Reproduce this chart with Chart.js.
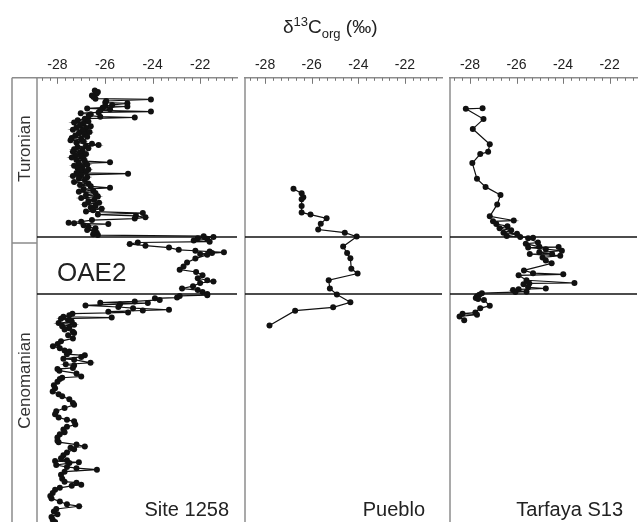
<!DOCTYPE html>
<html>
<head>
<meta charset="utf-8">
<script src="https://cdn.jsdelivr.net/npm/chart.js@4.4.1/dist/chart.umd.min.js"></script>
<style>
  html, body { margin: 0; padding: 0; background: #fff; }
  #wrap { position: relative; width: 641px; height: 526px; overflow: hidden; font-family: "Liberation Sans", Arial, sans-serif; }
  canvas { position: absolute; top: 0; }
  #title { position: absolute; left: 283px; top: 17px; font-size: 19px; line-height: 19px; color: #222; white-space: nowrap; z-index: 2; }
  #title .sup { font-size: 13px; position: relative; top: -7px; }
  #title .sub { font-size: 13px; position: relative; top: 5px; }
</style>
</head>
<body>
<div id="wrap">
  <canvas id="c1" width="241" height="526" style="left:0"></canvas>
  <canvas id="c2" width="205" height="526" style="left:241px"></canvas>
  <canvas id="c3" width="195" height="526" style="left:446px"></canvas>
  <div id="title">δ<span class="sup">13</span>C<span class="sub">org</span> (‰)</div>
</div>
<script>
// Data points: [relative depth (0 = top of section), d13C org in permil]
const site1258 = [
  [3.2,-26.43],[3.6,-26.30],[4.0,-26.35],[4.5,-26.55],[4.9,-26.48],[5.3,-26.40],[5.5,-24.07],[5.9,-25.95],
  [6.3,-25.99],[6.5,-25.06],[6.9,-25.70],[7.2,-25.99],[7.3,-25.06],[7.6,-26.10],[7.8,-26.75],[8.0,-25.79],
  [8.3,-26.20],[8.6,-24.07],[8.8,-26.27],[9.0,-27.02],[9.3,-26.60],[9.6,-26.68],[9.9,-26.20],[10.1,-24.75],
  [10.4,-26.85],[10.8,-27.15],[11.1,-26.70],[11.4,-27.30],[11.7,-26.90],[12.0,-27.05],[12.3,-26.60],[12.6,-27.20],
  [12.9,-26.80],[13.2,-27.35],[13.5,-26.95],[13.8,-26.65],[14.1,-27.10],[14.4,-26.85],[14.7,-27.25],[15.0,-26.75],
  [15.3,-27.40],[15.6,-27.00],[15.9,-27.45],[16.2,-26.90],[16.5,-27.20],[16.8,-26.55],[17.1,-26.27],[17.3,-26.80],
  [17.6,-27.15],[17.9,-26.70],[18.2,-27.30],[18.5,-26.95],[18.8,-27.35],[19.1,-27.05],[19.4,-26.80],[19.7,-27.25],
  [20.0,-27.00],[20.3,-27.40],[20.6,-26.90],[20.9,-27.20],[21.2,-26.85],[21.5,-25.79],[21.8,-27.10],[22.1,-26.75],
  [22.4,-27.30],[22.7,-26.95],[23.0,-27.15],[23.3,-26.70],[23.6,-27.05],[23.9,-26.80],[24.2,-27.20],[24.4,-25.03],
  [24.7,-27.00],[25.0,-27.35],[25.3,-26.75],[25.6,-27.10],[26.0,-26.85],[26.5,-27.30],[26.9,-26.70],[27.3,-27.05],
  [27.6,-26.60],[28.0,-25.79],[28.3,-26.90],[28.7,-26.50],[29.0,-27.10],[29.4,-26.40],[29.8,-26.80],[30.2,-26.30],
  [30.6,-27.00],[31.0,-26.45],[31.4,-26.70],[31.8,-26.25],[32.2,-26.85],[32.6,-26.40],[33.0,-26.60],[33.3,-26.14],
  [33.7,-26.50],[34.0,-26.80],[34.4,-24.41],[34.8,-26.30],[35.1,-24.70],[35.5,-24.30],[35.8,-24.75],[36.2,-26.55],
  [36.6,-27.00],[36.9,-27.53],[37.0,-27.30],[37.2,-25.86],[37.5,-26.90],[37.9,-26.70],[38.3,-26.40],[38.7,-26.75],
  [39.0,-26.45],[39.4,-26.35],[39.8,-26.50],[40.0,-26.30],
  [40.3,-21.85],[40.5,-21.44],[40.8,-22.10],[41.1,-21.70],[41.4,-22.27],[41.7,-21.60],[41.9,-24.62],[42.3,-24.96],
  [42.7,-24.30],[43.2,-23.31],[43.75,-22.90],[44.0,-22.20],[44.2,-21.60],[44.4,-21.00],[44.6,-21.50],[44.8,-22.00],
  [45.0,-21.70],[46.0,-22.20],[47.0,-22.55],[48.0,-22.70],[48.8,-22.86],[49.4,-22.17],[50.2,-21.90],[51.0,-22.10],
  [51.5,-21.70],[51.8,-21.44],[52.2,-22.00],[53.0,-22.30],[53.6,-22.76],[54.0,-22.10],[54.5,-21.90],[55.0,-21.70],
  [55.3,-21.70],[55.5,-22.86],[55.9,-22.97],[56.1,-23.90],[56.5,-23.70],[56.9,-24.75],[57.2,-26.20],[57.3,-24.20],
  [57.6,-25.37],[57.9,-26.82],[58.3,-25.44],[58.6,-24.82],[59.0,-23.31],[59.2,-24.41],[59.5,-25.86],[59.7,-25.03],
  [60.0,-27.37],[60.4,-27.50],[60.8,-27.75],[61.0,-25.72],[61.3,-27.85],[61.7,-27.55],[62.0,-27.40],[62.4,-27.95],
  [62.8,-27.30],[63.2,-27.80],[63.6,-27.50],[64.0,-27.70],[64.6,-27.35],[64.9,-27.30],[65.5,-27.55],[66.3,-27.35],
  [67.0,-27.85],[67.7,-27.99],[68.3,-28.19],[68.8,-27.90],[69.4,-27.70],[69.6,-27.50],[70.3,-27.60],[70.6,-26.85],
  [71.0,-27.00],[71.5,-27.75],[71.7,-27.30],[72.5,-26.61],[72.9,-27.65],[73.2,-27.30],[73.8,-27.35],[74.1,-28.00],
  [74.5,-27.92],[75.2,-27.20],[76.0,-27.00],[76.3,-27.80],[76.6,-27.90],[77.3,-28.00],[78.2,-28.15],[79.0,-28.10],
  [79.8,-28.20],[80.5,-27.95],[81.0,-27.80],[81.8,-27.50],[82.7,-27.35],[83.2,-27.30],[84.0,-27.70],[84.8,-28.05],
  [85.6,-28.10],[86.4,-27.95],[87.0,-27.60],[87.4,-27.30],[88.2,-27.25],[88.8,-27.60],[89.5,-27.75],[90.2,-27.70],
  [90.7,-27.90],[91.5,-28.00],[92.3,-28.00],[92.7,-27.95],[93.3,-27.20],[93.8,-26.85],[94.1,-27.45],[94.5,-27.30],
  [95.3,-27.60],[96.0,-27.75],[96.8,-27.85],[97.3,-27.60],[97.5,-28.10],[97.8,-27.10],[98.0,-27.50],[98.5,-28.05],
  [99.0,-27.60],[99.3,-27.20],[99.7,-26.34],[100.2,-27.70],[101.0,-27.85],[102.0,-27.80],[102.75,-27.70],[103.0,-27.20],
  [103.5,-27.00],[103.8,-27.40],[104.3,-27.90],[104.8,-28.10],[105.6,-28.20],[106.4,-28.30],[107.0,-28.25],[107.8,-27.90],
  [108.5,-27.60],[109.0,-27.09],[109.7,-28.05],[110.3,-28.15],[111.0,-28.00],[111.7,-28.25],[112.4,-28.20],[113.0,-28.10]
];

const pueblo = [
  [28.2,-26.78],[29.4,-26.43],[30.4,-26.36],[30.9,-26.43],[32.6,-26.43],[34.25,-26.43],[34.8,-26.05],[35.75,-25.36],
  [37.1,-25.61],[38.6,-25.72],[39.4,-24.58],[40.4,-24.07],[42.9,-24.65],[44.6,-24.48],[45.9,-24.34],[48.6,-24.30],
  [49.8,-24.03],[51.5,-25.27],[53.6,-25.22],[55.1,-24.92],[57.1,-24.34],[58.4,-25.08],[59.25,-26.71],[63.0,-27.81]
];

const tarfaya = [
  [7.75,-27.46],[7.9,-28.18],[10.5,-27.42],[13.0,-27.88],[16.9,-27.15],[18.8,-27.22],[19.4,-27.56],[21.7,-27.90],
  [25.7,-27.70],[27.75,-27.33],[29.8,-26.69],[32.2,-26.83],[35.25,-27.15],[36.3,-26.12],[36.5,-27.01],[37.2,-26.87],
  [37.75,-26.39],[38.3,-26.73],[38.8,-26.23],[39.4,-26.56],[39.7,-25.98],[40.25,-26.42],[40.5,-25.84],[40.7,-25.29],
  [40.8,-25.50],[41.9,-25.08],[42.2,-25.60],[43.0,-25.02],[43.05,-24.19],[43.2,-25.50],[43.6,-24.74],[44.0,-24.05],
  [44.4,-25.02],[44.8,-24.47],[44.85,-25.43],[45.25,-24.12],[45.7,-24.88],[46.5,-24.74],[47.2,-24.49],[49.0,-25.68],
  [49.7,-25.29],[50.0,-23.99],[50.25,-25.91],[51.5,-25.57],[52.2,-23.51],[52.3,-25.45],[52.5,-25.70],[53.3,-25.50],
  [53.6,-24.74],[53.8,-25.91],[54.0,-26.15],[54.4,-25.57],[54.5,-26.05],[54.8,-27.49],[55.2,-27.60],[55.6,-27.70],
  [56.0,-27.75],[56.3,-27.65],[56.5,-27.40],[58.0,-27.15],[58.6,-27.56],[59.7,-27.77],[60.0,-28.32],[60.25,-27.70],
  [60.7,-28.45],[61.7,-28.25]
];

const xTicks = [-28, -26, -24, -22];
const xMin = -28.86;
const panelMax = [-20.45, -20.41, -20.82];
const panelNames = ['Site 1258', 'Pueblo', 'Tarfaya S13'];
const depthMin = 0;
const depthMax = 113;
const oaeTop = 40.5;
const oaeBase = 55;
const stageBoundary = 42;
const stageNames = ['Turonian', 'Cenomanian'];
const stageLabelDepth = [18, 77];

const FONT = '"Liberation Sans", Arial, sans-serif';

// Panel frame, inward ticks, OAE2 lines and labels
const panelDecor = {
  id: 'panelDecor',
  beforeDatasetsDraw(chart, args, opts) {
    const ctx = chart.ctx;
    const area = chart.chartArea;
    const x = chart.scales.x;
    const y = chart.scales.y;
    ctx.save();

    // panel left border
    ctx.strokeStyle = '#8c8c8c';
    ctx.lineWidth = 1.5;
    ctx.beginPath();
    ctx.moveTo(area.left, area.top);
    ctx.lineTo(area.left, area.bottom);
    ctx.stroke();

    // minor ticks every 1/3 permil, major at labelled values
    ctx.lineWidth = 1;
    ctx.strokeStyle = '#777';
    for (let k = -2; ; k++) {
      const v = -28 + k / 3;
      if (v > x.max) break;
      const px = Math.round(x.getPixelForValue(v)) + 0.5;
      const len = k % 6 === 0 ? 6 : 3;
      ctx.beginPath();
      ctx.moveTo(px, area.top);
      ctx.lineTo(px, area.top + len);
      ctx.stroke();
    }

    // OAE2 interval
    ctx.strokeStyle = '#111';
    ctx.lineWidth = 1.3;
    [oaeTop, oaeBase].forEach(d => {
      const py = y.getPixelForValue(d);
      ctx.beginPath();
      ctx.moveTo(area.left, py);
      ctx.lineTo(area.right, py);
      ctx.stroke();
    });

    // stage column (first panel only)
    if (opts.stageColumn) {
      const colLeft = area.left - 25;
      ctx.strokeStyle = '#8c8c8c';
      ctx.lineWidth = 1.5;
      ctx.beginPath();
      ctx.moveTo(colLeft, area.top);
      ctx.lineTo(area.left, area.top);
      ctx.moveTo(colLeft, area.top);
      ctx.lineTo(colLeft, area.bottom);
      const by = y.getPixelForValue(stageBoundary);
      ctx.moveTo(colLeft, by);
      ctx.lineTo(area.left, by);
      ctx.stroke();

      ctx.fillStyle = '#333';
      ctx.font = '17px ' + FONT;
      ctx.textAlign = 'center';
      ctx.textBaseline = 'middle';
      stageNames.forEach((name, i) => {
        ctx.save();
        ctx.translate(colLeft + 13, y.getPixelForValue(stageLabelDepth[i]));
        ctx.rotate(-Math.PI / 2);
        ctx.fillText(name, 0, 0);
        ctx.restore();
      });

      ctx.font = '26px ' + FONT;
      ctx.fillStyle = '#222';
      ctx.textAlign = 'left';
      ctx.textBaseline = 'alphabetic';
      ctx.fillText('OAE2', area.left + 20, y.getPixelForValue((oaeTop + oaeBase) / 2) + 15);
    }

    // site name
    ctx.font = '20px ' + FONT;
    ctx.fillStyle = '#222';
    ctx.textAlign = 'right';
    ctx.textBaseline = 'alphabetic';
    ctx.fillText(opts.name, area.right - opts.nameRight, area.bottom - 6);

    ctx.restore();
  }
};

function makePanel(canvasId, series, idx, nameRight) {
  return new Chart(document.getElementById(canvasId), {
    type: 'scatter',
    data: {
      datasets: [{
        data: series.map(p => ({ x: p[1], y: p[0] })),
        showLine: true,
        borderColor: '#111',
        borderWidth: 1.2,
        pointRadius: 3,
        pointBackgroundColor: '#111',
        pointBorderWidth: 0
      }]
    },
    options: {
      responsive: false,
      animation: false,
      devicePixelRatio: 1,
      layout: { padding: { left: idx === 0 ? 37 : 0, top: 53, right: 0, bottom: 0 } },
      plugins: {
        legend: { display: false },
        tooltip: { enabled: false },
        panelDecor: { name: panelNames[idx], nameRight: nameRight, stageColumn: idx === 0 }
      },
      scales: {
        x: {
          type: 'linear',
          position: 'top',
          min: xMin,
          max: panelMax[idx],
          afterBuildTicks: s => { s.ticks = xTicks.map(v => ({ value: v })); },
          ticks: { font: { family: FONT, size: 14 }, color: '#222', padding: 4 },
          grid: { display: false, drawTicks: false },
          border: { display: true, color: '#8c8c8c', width: 1.5 }
        },
        y: { type: 'linear', reverse: true, min: depthMin, max: depthMax, display: false }
      }
    },
    plugins: [panelDecor]
  });
}

makePanel('c1', site1258, 0, 8);
makePanel('c2', pueblo, 1, 17);
makePanel('c3', tarfaya, 2, 14);
</script>
</body>
</html>
